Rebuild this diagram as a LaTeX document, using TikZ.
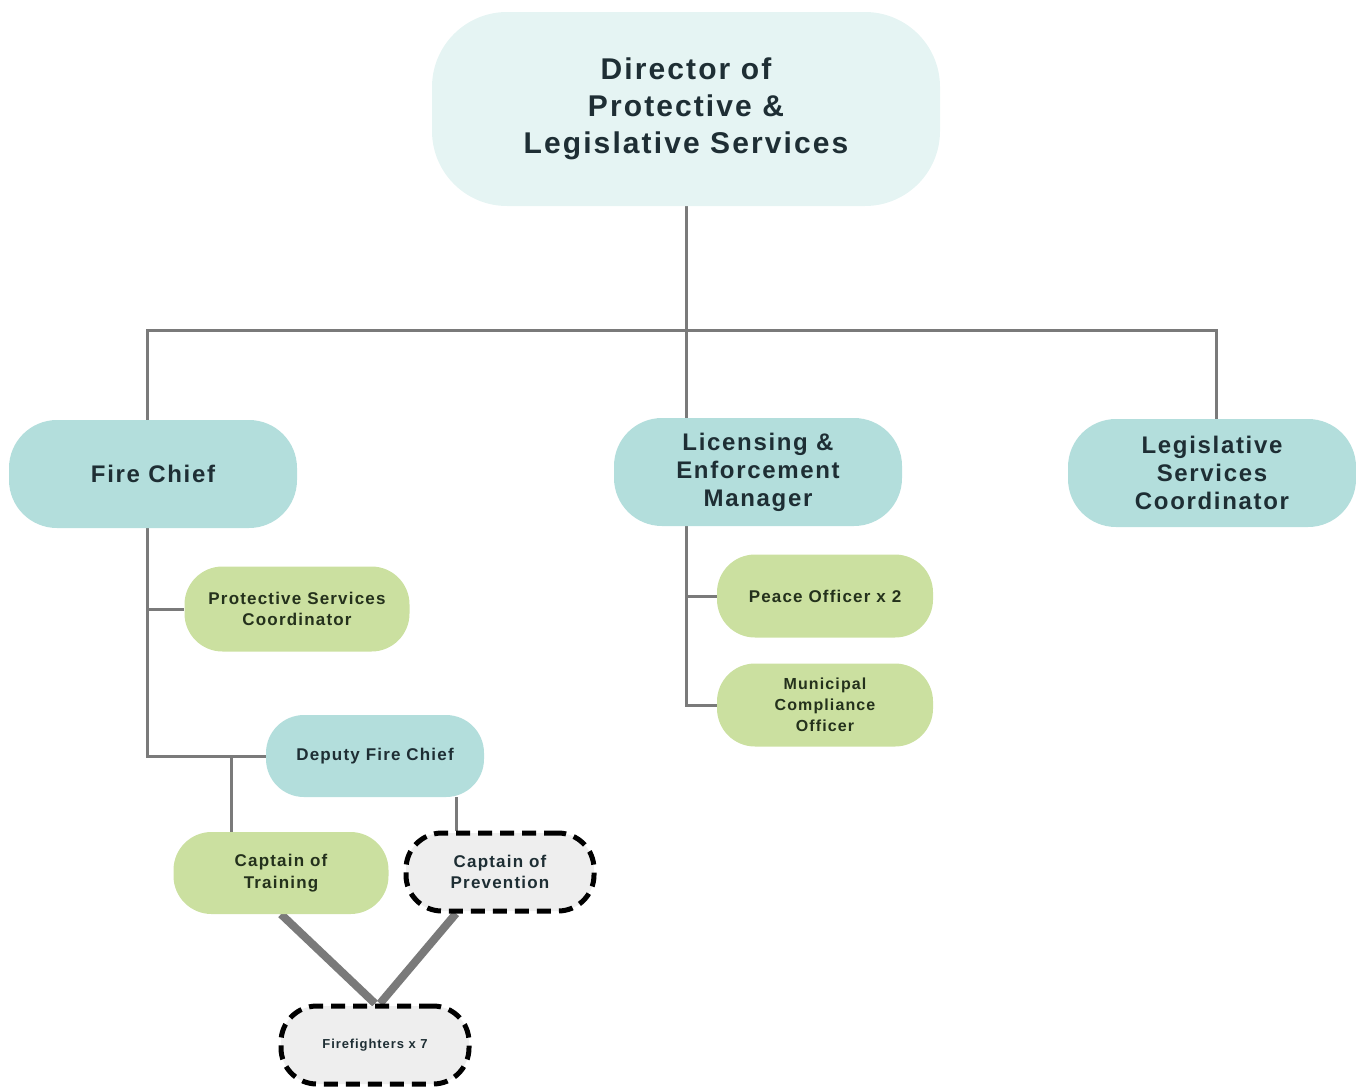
\documentclass[tikz,border=0pt]{standalone}
\usepackage{fontspec}
\setmainfont{Liberation Sans}[LetterSpace=7]
\usetikzlibrary{backgrounds}
\definecolor{dirfill}{HTML}{E5F4F3}
\definecolor{tealfill}{HTML}{B3DEDC}
\definecolor{greenfill}{HTML}{CBE0A0}
\definecolor{grayfill}{HTML}{EEEEEE}
\definecolor{linegray}{HTML}{7A7A7A}
\definecolor{txtb}{HTML}{1E2E34}
\definecolor{txtg}{HTML}{24311C}
\tikzset{
  base/.style={rectangle, inner sep=0pt, align=center, font=\bfseries},
  dirbox/.style={base, fill=dirfill, rounded corners=75pt, text=txtb,
     minimum width=508pt, minimum height=194pt,
     font=\bfseries\fontsize{30}{37}\selectfont},
  midbox/.style={base, fill=tealfill, rounded corners=48pt, text=txtb,
     minimum width=288pt, minimum height=108pt,
     font=\bfseries\fontsize{24}{28}\selectfont},
  greenbox/.style={base, fill=greenfill, rounded corners=38pt, text=txtg,
     minimum width=216pt, minimum height=83pt,
     font=\bfseries\fontsize{17}{21.5}\selectfont},
  smallteal/.style={base, fill=tealfill, rounded corners=38pt, text=txtb,
     minimum width=218pt, minimum height=82pt,
     font=\bfseries\fontsize{17}{21.5}\selectfont},
  dashbox/.style={base, fill=grayfill, rounded corners=36pt, text=txtb,
     draw=black, line width=5pt, dash pattern=on 14pt off 8pt,
     minimum width=188pt, minimum height=78pt,
     font=\bfseries\fontsize{17}{21.5}\selectfont},
  conn/.style={draw=linegray, line width=3pt},
  thickconn/.style={draw=linegray, line width=8pt},
}
\begin{document}
\begin{tikzpicture}[x=1pt,y=-1pt]
\useasboundingbox (0,0) rectangle (1356,1087);
\coordinate (hl) at (147,330);
\coordinate (hr) at (1216,330);
\coordinate (hc) at (686,330);
\coordinate (fcv) at (147,756);
\coordinate (psj) at (147,609);
\coordinate (dj) at (231,756);
\coordinate (dpx) at (456,0);
\coordinate (lj1) at (686,596);
\coordinate (lj2) at (686,705);
\node[dirbox] (dir) at (686,109) {Director of\\Protective \&\\Legislative Services};
\node[midbox] (fc) at (153,474) {Fire Chief};
\node[midbox] (lem) at (758,472) {Licensing \&\\Enforcement\\Manager};
\node[midbox] (lsc) at (1212,473) {Legislative\\Services\\Coordinator};
\node[greenbox, minimum width=225pt, minimum height=85pt] (psc) at (297,609) {Protective Services\\Coordinator};
\node[smallteal] (dfc) at (375,756) {Deputy Fire Chief};
\node[greenbox] (po) at (825,596) {Peace Officer x 2};
\node[greenbox, font=\bfseries\fontsize{16}{21}\selectfont] (mco) at (825,705) {Municipal\\Compliance\\Officer};
\node[greenbox, minimum width=215pt, minimum height=82pt] (ct) at (281,873) {Captain of\\Training};
\node[dashbox] (cp) at (500,872) {Captain of\\Prevention};
\node[dashbox, font=\bfseries\fontsize{13}{16}\selectfont] (ff) at (375,1045) {Firefighters x 7};
\begin{scope}[on background layer]
\draw[conn] (dir.south -| hc) -- (lem.north -| hc);
\draw[conn] (hl |- fc.north) -- (hl) -- (hr) -- (hr |- lsc.north);
\draw[conn] (fc.south -| hl) -- (fcv) -- (dfc.west);
\draw[conn] (psj) -- (psc.west);
\draw[conn] (dj) -- (dj |- ct.north);
\draw[conn] (dpx |- dfc.south) -- (dpx |- cp.north);
\draw[conn] (lem.south -| hc) -- (lj2) -- (mco.west);
\draw[conn] (lj1) -- (po.west);
\draw[thickconn] (ct.south) -- (ff.north);
\draw[thickconn] (dpx |- cp.south) -- ([xshift=5pt]ff.north);
\end{scope}
\end{tikzpicture}
\end{document}
